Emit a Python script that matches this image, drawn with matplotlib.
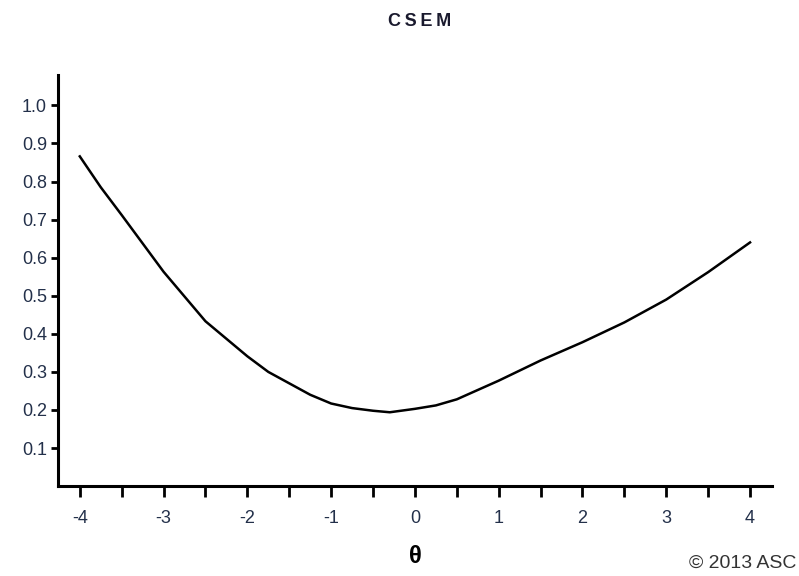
import numpy as np
from matplotlib import pyplot as plt

plt.rcParams['font.family'] = ['Liberation Sans', 'DejaVu Sans']
plt.rcParams['axes.unicode_minus'] = False

theta = [-4.0, -3.75, -3.5, -3.0, -2.5, -2.0, -1.75, -1.5, -1.25, -1.0, -0.75, -0.5, -0.3,
         0.0, 0.25, 0.5, 1.0, 1.5, 2.0, 2.5, 3.0, 3.5, 4.0]
csem = [0.866, 0.785, 0.712, 0.563, 0.433, 0.341, 0.30, 0.27, 0.24, 0.217, 0.205, 0.198, 0.194,
        0.203, 0.212, 0.228, 0.277, 0.33, 0.378, 0.43, 0.49, 0.562, 0.64]

x_ticks = [-4, -3, -2, -1, 0, 1, 2, 3, 4]
y_ticks = [0.1, 0.2, 0.3, 0.4, 0.5, 0.6, 0.7, 0.8, 0.9, 1.0]

fig = plt.figure(figsize=(7.99, 5.76), dpi=100)
ax = fig.add_axes([0.0726, 0.156, 0.8934, 0.714])

ax.plot(theta, csem, color='black', linewidth=1.8)

ax.set_xlim(-4.26, 4.26)
ax.set_ylim(0, 1.08)
ax.set_xticks(x_ticks)
ax.set_xticks(np.arange(-3.5, 4, 1.0), minor=True)
ax.set_yticks(y_ticks)
ax.set_yticklabels(['%.1f' % v for v in y_ticks])

for s in ['top', 'right']:
    ax.spines[s].set_visible(False)
for s in ['left', 'bottom']:
    ax.spines[s].set_linewidth(2.2)

ax.tick_params(axis='x', which='both', direction='out', length=8, width=2, pad=9,
               labelsize=13, labelcolor='#23304a')
ax.tick_params(axis='y', direction='out', length=5, width=2, pad=3,
               labelsize=13, labelcolor='#23304a')

fig.text(0.525, 0.962, 'C\u2009S\u2009E\u2009M', ha='center', va='center', fontsize=13,
         fontweight='bold', color='#1a1a2e')
ax.set_xlabel('θ', fontsize=17, fontweight='bold', labelpad=13)
fig.text(0.997, 0.008, '© 2013 ASC', ha='right', va='bottom', fontsize=14, color='#333333')

plt.savefig('out.png', dpi=100)
